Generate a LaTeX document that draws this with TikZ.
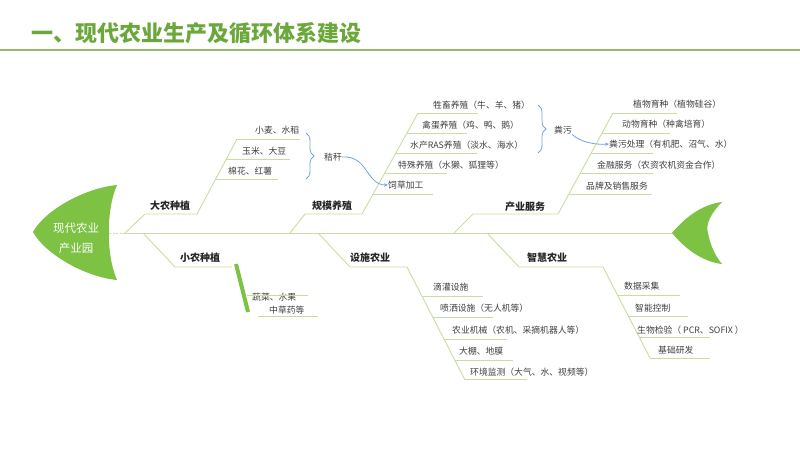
\documentclass[tikz,border=0pt]{standalone}
\usepackage{fontspec}
\newfontfamily\cjk{Noto Sans CJK SC}
\usetikzlibrary{arrows.meta,decorations.pathreplacing}
\definecolor{headg}{RGB}{125,194,66}
\definecolor{titleg}{RGB}{106,168,60}
\definecolor{lineg}{RGB}{200,222,160}
\definecolor{braceb}{RGB}{120,165,215}
\definecolor{txt}{RGB}{64,64,64}
\begin{document}
\begin{tikzpicture}[x=1pt,y=-1pt,
  bone/.style={draw=lineg,line width=0.9pt},
  sub/.style={font=\cjk\fontsize{8.8}{10}\selectfont,text=txt,inner sep=0pt,anchor=west},
  cat/.style={font=\cjk\bfseries\fontsize{10}{12}\selectfont,text=black!85,inner sep=0pt},
  bracel/.style={draw=braceb,line width=0.8pt,decorate,decoration={brace,amplitude=8pt}},
  flow/.style={draw=braceb,line width=0.8pt,-{Stealth[length=4pt,width=3.5pt]}}]
\useasboundingbox (0,0) rectangle (800,450);
\fill[white] (0,0) rectangle (800,450);
% title
\node[font=\cjk\bfseries\fontsize{22}{25}\selectfont,text=titleg,anchor=west,inner sep=0pt] (title) at (31,33) {一、现代农业生产及循环体系建设};
\coordinate (tl1) at (0,50); \coordinate (tl2) at (800,50);
\draw[draw=titleg!75,line width=1.2pt] (tl1) -- (tl2);
% head and tail
\fill[headg] (117,185) .. controls (85,188) and (45,210) .. (33,232) .. controls (45,254) and (85,277) .. (117,280) .. controls (106,255) and (106,210) .. cycle;
\node[font=\cjk\fontsize{11.5}{20}\selectfont,text=white,align=center,inner sep=0pt] (head) at (76,238) {现代农业\\产业园};
\fill[headg] (672,233) .. controls (688,214) and (705,204) .. (722,202) .. controls (712,212) and (705,224) .. (708,233) .. controls (710,244) and (715,256) .. (722,264) .. controls (705,262) and (688,252) .. cycle;
% spine
\coordinate (sp0) at (109,233); \coordinate (sp1) at (125,233); \coordinate (sp2) at (672,233);
\draw[bone,dash pattern=on 2pt off 1.5pt] (sp0) -- (sp1);
\draw[bone] (sp1) -- (sp2);
% 大农种植
\coordinate (a0) at (125,233); \coordinate (a1) at (145,214); \coordinate (a2) at (197,214); \coordinate (a3) at (237,139);
\draw[bone] (a0) -- (a1) -- (a2) -- (a3);
\node[cat] (ca) at (170,206) {大农种植};
\draw[bone] (237,139) -- (300,139);
\draw[bone] (226,159) -- (290,159);
\draw[bone] (216,179) -- (278,179);
\node[sub] (a_s1) at (255,130) {小麦、水稻};
\node[sub] (a_s2) at (242,151) {玉米、大豆};
\node[sub] (a_s3) at (228,171) {棉花、红薯};
\coordinate (br1a) at (306,133); \coordinate (br1b) at (306,179);
\draw[bracel] (br1a) -- (br1b);
\node[sub,anchor=center] (jg) at (333,157) {秸秆};
% 规模养殖
\coordinate (b0) at (290,233); \coordinate (b1) at (305,214); \coordinate (b2) at (362,214); \coordinate (b3) at (418,113);
\draw[bone] (b0) -- (b1) -- (b2) -- (b3);
\node[cat] (cb) at (332,206) {规模养殖};
\draw[bone] (418,113) -- (478,113);
\draw[bone] (407,133) -- (467,133);
\draw[bone] (396,153) -- (477,153);
\draw[bone] (385,173) -- (447,173);
\draw[bone] (373,194) -- (433,194);
\node[sub] (b_s1) at (433,105) {牲畜养殖（牛、羊、猪）};
\node[sub] (b_s2) at (422,125) {禽蛋养殖（鸡、鸭、鹅）};
\node[sub] (b_s3) at (410,145) {水产RAS养殖（淡水、海水）};
\node[sub] (b_s4) at (398,165) {特殊养殖（水獭、狐狸等）};
\node[sub] (fc) at (388,185) {饲草加工};
\coordinate (br2a) at (538,105); \coordinate (br2b) at (538,153);
\draw[bracel] (br2a) -- (br2b);
\node[sub,anchor=center] (fw) at (563,130) {粪污};
\draw[flow] (jg.east) .. controls (368,155) and (366,185) .. (fc.west);
% 产业服务
\coordinate (c0) at (454,233); \coordinate (c1) at (473,214); \coordinate (c2) at (558,214); \coordinate (c3) at (613,113);
\draw[bone] (c0) -- (c1) -- (c2) -- (c3);
\node[cat] (cc) at (525,207) {产业服务};
\draw[bone] (613,113) -- (677,113);
\draw[bone] (602,133) -- (670,133);
\draw[bone] (591,153) -- (653,153);
\draw[bone] (580,173) -- (653,173);
\draw[bone] (569,194) -- (652,194);
\node[sub] (c_s1) at (633,104) {植物育种（植物硅谷）};
\node[sub] (c_s2) at (622,124) {动物育种（种禽培育）};
\node[sub] (fcl) at (609,144) {粪污处理（有机肥、沼气、水）};
\node[sub] (c_s4) at (597,165) {金融服务（农资农机资金合作）};
\node[sub] (c_s5) at (586,186) {品牌及销售服务};
\draw[flow] (fw.south east) .. controls (580,142) and (595,145) .. (fcl.west);
% 小农种植
\coordinate (d0) at (143,233); \coordinate (d1) at (175,267); \coordinate (d2) at (232,267);
\draw[bone] (d0) -- (d1) -- (d2);
\node[cat] (cd) at (200,258) {小农种植};
\coordinate (bar1) at (236,264); \coordinate (bar2) at (248,312);
\draw[headg,line width=4pt] (bar1) -- (bar2);
\node[sub] (d_s1) at (252,297) {蔬菜、水果};
\node[sub] (d_s2) at (269,310) {中草药等};
\draw[bone] (247,295) -- (308,295);
\draw[bone] (258,316) -- (318,316);
% 设施农业
\coordinate (e0) at (318,233); \coordinate (e1) at (350,267); \coordinate (e2) at (407,267); \coordinate (e3) at (465,380);
\draw[bone] (e0) -- (e1) -- (e2) -- (e3);
\node[cat] (ce) at (370,258) {设施农业};
\draw[bone] (422,296) -- (483,296);
\draw[bone] (433,317) -- (493,317);
\draw[bone] (444,339) -- (507,339);
\draw[bone] (455,360) -- (513,360);
\draw[bone] (465,379) -- (527,379);
\node[sub] (e_s1) at (433,287) {滴灌设施};
\node[sub] (e_s2) at (440,308) {喷洒设施（无人机等）};
\node[sub] (e_s3) at (452,330) {农业机械（农机、采摘机器人等）};
\node[sub] (e_s4) at (459,351) {大棚、地膜};
\node[sub] (e_s5) at (470,372) {环境监测（大气、水、视频等）};
% 智慧农业
\coordinate (f0) at (487,233); \coordinate (f1) at (519,267); \coordinate (f2) at (603,267); \coordinate (f3) at (650,358);
\draw[bone] (f0) -- (f1) -- (f2) -- (f3);
\node[cat] (cf) at (547,258) {智慧农业};
\draw[bone] (617,295) -- (680,295);
\draw[bone] (628,316) -- (688,316);
\draw[bone] (639,337) -- (710,337);
\draw[bone] (650,358) -- (710,358);
\node[sub] (f_s1) at (624,286) {数据采集};
\node[sub] (f_s2) at (635,308) {智能控制};
\node[sub] (f_s3) at (637,330) {生物检验（ PCR、SOFIX ）};
\node[sub] (f_s4) at (658,350) {基础研发};
\end{tikzpicture}
\end{document}
